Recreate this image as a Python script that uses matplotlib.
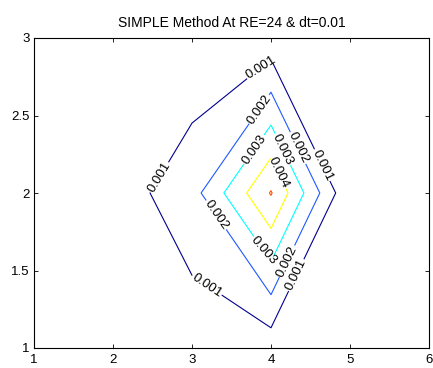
import numpy as np
import matplotlib
matplotlib.use("Agg")
import matplotlib.pyplot as plt

plt.rcParams['font.family'] = ['Liberation Sans', 'DejaVu Sans']

# grid nodes
x_nodes = [1, 2, 3, 4, 5, 6]
y_nodes = [1, 2, 3]

# field values (rows = y, cols = x)
z_row_y1 = [0.00010, 0.00020, 0.00047, 0.00039, 0.00005, 0.00002]
z_row_y2 = [0.00015, 0.00047, 0.00160, 0.00507, 0.00010, 0.00002]
z_row_y3 = [0.00010, 0.00015, 0.00027, 0.00035, 0.00005, 0.00002]

levels = [0.001, 0.002, 0.003, 0.004, 0.005]
level_colors = ['#00008F', '#1E5AFF', '#00FFFF', '#FFFF00', '#FF5000']

# label positions (data coordinates, on the contour lines)
label_x = [3.87, 2.59, 4.65, 3.19, 4.32, 3.85, 4.34, 3.31, 4.20, 3.79, 4.15, 3.91, 4.09]
label_y = [2.81, 2.10, 2.18, 1.405, 1.47, 2.54, 2.29, 1.86, 1.56, 2.28, 2.28, 1.627, 2.128]

title = 'SIMPLE Method At RE=24 & dt=0.01'
x_ticks = [1, 2, 3, 4, 5, 6]
y_ticks = [1, 1.5, 2, 2.5, 3]
y_ticklabels = ['1', '1.5', '2', '2.5', '3']

Z = np.array([z_row_y1, z_row_y2, z_row_y3])
X, Y = np.meshgrid(x_nodes, y_nodes)

fig = plt.figure(figsize=(4.33, 3.68), dpi=100)
ax = fig.add_axes([34 / 433, 20 / 368, (429 - 34) / 433, (348 - 38) / 368])

cs = ax.contour(X, Y, Z, levels=levels, colors=level_colors, linewidths=0.8)
ax.clabel(cs, levels=levels[:4], fmt='%.3f', fontsize=9.5, inline=True,
          inline_spacing=1, colors='black',
          manual=list(zip(label_x, label_y)))

ax.set_xlim(1, 6)
ax.set_ylim(1, 3)
ax.set_xticks(x_ticks)
ax.set_xticklabels([str(t) for t in x_ticks])
ax.set_yticks(y_ticks)
ax.set_yticklabels(y_ticklabels)
ax.tick_params(direction='in', length=3, width=0.6, top=True, right=True,
               labelsize=9.5)
ax.tick_params(axis='x', pad=4)
ax.tick_params(axis='y', pad=3)
for s in ax.spines.values():
    s.set_linewidth(0.8)
ax.set_title(title, fontsize=10, pad=8)

fig.savefig('out.png', dpi=100)
